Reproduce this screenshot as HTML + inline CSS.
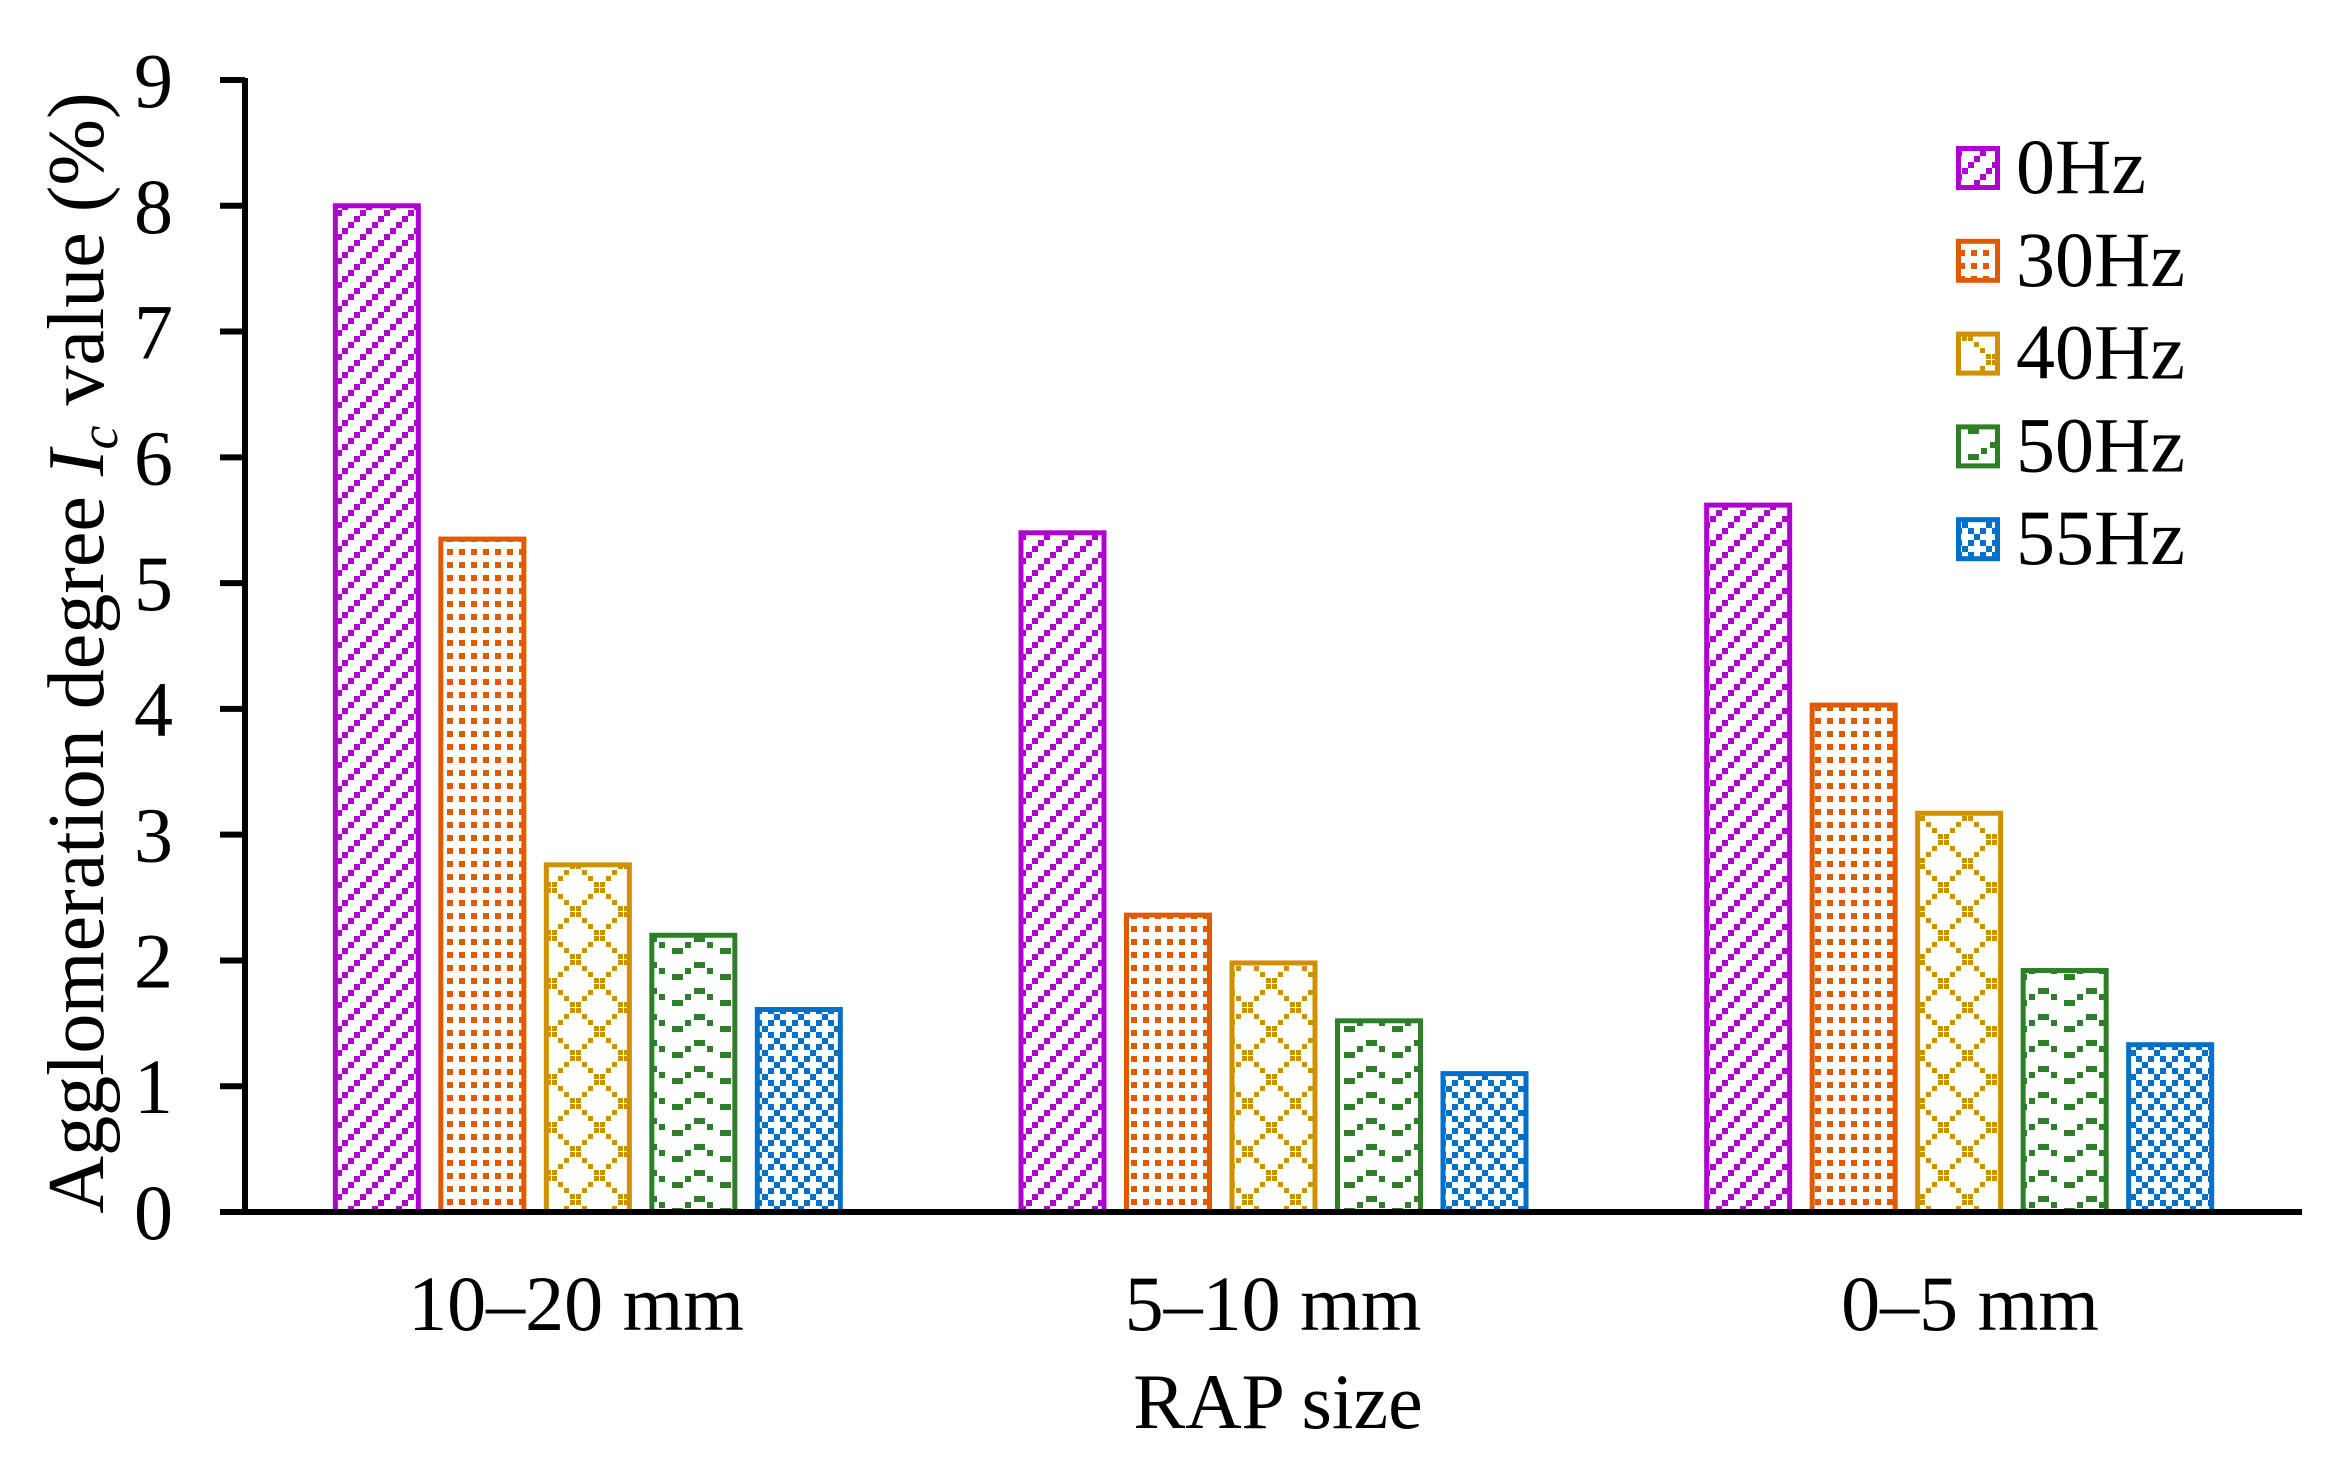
<!DOCTYPE html>
<html><head><meta charset="utf-8"><style>
html,body{margin:0;padding:0;background:#fff;}
svg{display:block;}
text{font-family:"Liberation Serif","Times New Roman",serif;fill:#000;}
</style></head><body>
<svg id="chart" width="2341" height="1462" viewBox="0 0 2341 1462" xmlns="http://www.w3.org/2000/svg">
<defs>
<pattern id="p0" patternUnits="userSpaceOnUse" width="24" height="24">
<rect x="0" y="18" width="6" height="6" fill="#b000d0"/><rect x="6" y="12" width="6" height="6" fill="#b000d0"/>
<rect x="12" y="6" width="6" height="6" fill="#b000d0"/><rect x="18" y="0" width="6" height="6" fill="#b000d0"/>
</pattern>
<pattern id="p1" patternUnits="userSpaceOnUse" width="12" height="13">
<rect x="3" y="3" width="6" height="6" fill="#e05a00"/>
</pattern>
<pattern id="p2" patternUnits="userSpaceOnUse" width="48" height="48">
<g fill="#d09000">
<rect x="0" y="0" width="5" height="5"/><rect x="6" y="6" width="5" height="5"/><rect x="12" y="12" width="5" height="5"/><rect x="18" y="18" width="5" height="5"/><rect x="24" y="24" width="5" height="5"/><rect x="30" y="30" width="5" height="5"/><rect x="36" y="36" width="5" height="5"/><rect x="42" y="42" width="5" height="5"/>
<rect x="42" y="0" width="5" height="5"/><rect x="36" y="6" width="5" height="5"/><rect x="30" y="12" width="5" height="5"/><rect x="24" y="18" width="5" height="5"/><rect x="18" y="24" width="5" height="5"/><rect x="12" y="30" width="5" height="5"/><rect x="6" y="36" width="5" height="5"/><rect x="0" y="42" width="5" height="5"/>
</g>
</pattern>
<pattern id="p3" patternUnits="userSpaceOnUse" width="48" height="26">
<g fill="#2e8028">
<rect x="0" y="12" width="11" height="6"/><rect x="13" y="6" width="6" height="6"/><rect x="22" y="0" width="11" height="6"/><rect x="35" y="6" width="6" height="6"/>
</g>
</pattern>
<pattern id="p4" patternUnits="userSpaceOnUse" width="24" height="24">
<g fill="#0070c8">
<rect x="0" y="0" width="6" height="6"/><rect x="12" y="0" width="6" height="6"/><rect x="6" y="6" width="6" height="6"/><rect x="0" y="12" width="6" height="6"/><rect x="12" y="12" width="6" height="6"/><rect x="18" y="18" width="6" height="6"/>
</g>
</pattern>
</defs>
<g id="bars"></g>
<g id="axes"></g>
<g id="legend"></g>
<text transform="translate(103,653) rotate(-90)" text-anchor="middle" font-size="80">Agglomeration degree <tspan font-style="italic">I</tspan><tspan font-style="italic" font-size="54" dy="14">c</tspan><tspan dy="-14"> value (%)</tspan></text>
<text x="1278" y="1428" text-anchor="middle" font-size="78">RAP size</text>
</svg>
<script>
const categories = ["10–20 mm", "5–10 mm", "0–5 mm"];
const seriesNames = ["0Hz", "30Hz", "40Hz", "50Hz", "55Hz"];
const s0Hz = [8.02, 5.42, 5.64];
const s30Hz = [5.37, 2.38, 4.05];
const s40Hz = [2.78, 2.00, 3.19];
const s50Hz = [2.22, 1.54, 1.94];
const s55Hz = [1.63, 1.12, 1.35];
const yTicks = [0, 1, 2, 3, 4, 5, 6, 7, 8, 9];

const series = [s0Hz, s30Hz, s40Hz, s50Hz, s55Hz];
const colors = ["#b000d0", "#e05a00", "#d09000", "#2e8028", "#0070c8"];
const NS = "http://www.w3.org/2000/svg";
const X0 = 245, X1 = 2302, Y0 = 1212, YMAX = 80;
const catW = (X1 - X0) / categories.length;
const yScale = v => Y0 - v / 9 * (Y0 - YMAX);
const barW = 88, barStep = 105.5;
const xBar = (g, s) => X0 + catW * (g + 0.5) - (barStep * 4 + barW) / 2 + s * barStep;
const xLabel = g => 576 + g * 697;
function mk(tag, attrs, parent) {
  const e = document.createElementNS(NS, tag);
  for (const k in attrs) e.setAttribute(k, attrs[k]);
  parent.appendChild(e);
  return e;
}
const gb = document.getElementById("bars");
series.forEach((vals, s) => {
  vals.forEach((v, g) => {
    const top = yScale(v);
    const r = mk("rect", {x: xBar(g, s) + 2.5, y: top + 2.5, width: barW - 5, height: Y0 - top - 2.5, fill: "url(#p" + s + ")", stroke: colors[s], "stroke-width": 5}, gb);
    
    
  });
});
const ga = document.getElementById("axes");
const ya = mk("line", {x1: X0, y1: YMAX - 2, x2: X0, y2: Y0 + 3, stroke: "#000", "stroke-width": 6}, ga);


const xa = mk("line", {x1: 220, y1: Y0, x2: X1, y2: Y0, stroke: "#000", "stroke-width": 6}, ga);


yTicks.forEach(t => {
  const y = yScale(t);
  const tk = mk("line", {x1: 220, y1: y, x2: X0, y2: y, stroke: "#000", "stroke-width": 6}, ga);
  
  
  const tl = mk("text", {x: 173, y: y + 27, "text-anchor": "end", "font-size": 78}, ga);
  tl.textContent = t;
  
  
});
categories.forEach((c, g) => {
  const t = mk("text", {x: xLabel(g), y: 1330, "text-anchor": "middle", "font-size": 78}, ga);
  t.textContent = c;
  
  
});
const gl = document.getElementById("legend");
seriesNames.forEach((n, s) => {
  const base = 193 + s * 92.8;
  const sw = mk("rect", {x: 1958.5, y: base - 44.5, width: 39, height: 39, fill: "url(#p" + s + ")", stroke: colors[s], "stroke-width": 5}, gl);
  
  
  const lt = mk("text", {x: 2016, y: base, "font-size": 78}, gl);
  lt.textContent = n;
  
  
});
</script>
</body></html>
